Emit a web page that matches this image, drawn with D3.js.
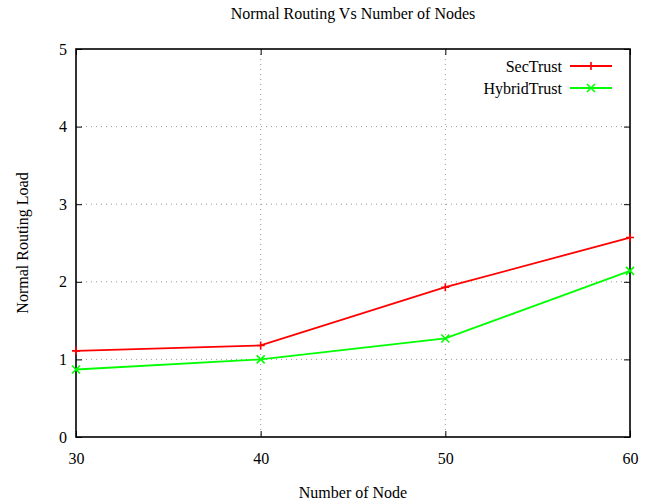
<!DOCTYPE html>
<html>
<head>
<meta charset="utf-8">
<script src="https://cdn.jsdelivr.net/npm/d3@7"></script>
<style>
  body { margin: 0; background: #fff; }
  svg text { font-family: "Liberation Serif", "DejaVu Serif", serif; fill: #000; }
  .grid line { stroke: #999; stroke-dasharray: 1,4; }
</style>
</head>
<body>
<svg id="chart" width="650" height="503"></svg>
<script>
// data
const nodes = [30, 40, 50, 60];
const secTrust = [1.11, 1.18, 1.93, 2.57];
const hybridTrust = [0.87, 1.0, 1.27, 2.14];
const yTicks = [0, 1, 2, 3, 4, 5];

const width = 650, height = 503;
const margin = { top: 49, right: 20, bottom: 66, left: 76 };
const w = width - margin.left - margin.right;   // plot width
const h = height - margin.top - margin.bottom;

const svg = d3.select('#chart');
const g = svg.append('g').attr('transform', `translate(${margin.left},${margin.top})`);

const x = d3.scaleLinear().domain([30, 60]).range([0, w]);
const y = d3.scaleLinear().domain([0, 5]).range([h, 0]);

// grid (dotted)
g.append('g').attr('class', 'grid')
  .selectAll('line.gx')
  .data(nodes.slice(1, -1))
  .join('line')
    .attr('x1', d => x(d)).attr('x2', d => x(d))
    .attr('y1', 0).attr('y2', h);
g.select('.grid')
  .selectAll('line.gy')
  .data(yTicks.slice(1, -1))
  .join('line')
    .attr('class', 'gy')
    .attr('x1', 0).attr('x2', w)
    .attr('y1', d => y(d)).attr('y2', d => y(d));

// axes, gnuplot style: inward ticks mirrored on every side
const tickLen = 6;
const xAxis = g.append('g').attr('transform', `translate(0,${h})`)
  .call(d3.axisBottom(x).tickValues(nodes).tickSize(-tickLen).tickPadding(16).tickFormat(d3.format('d')));
const xTop = g.append('g')
  .call(d3.axisTop(x).tickValues(nodes).tickSize(-tickLen).tickFormat(''));
const yAxis = g.append('g')
  .call(d3.axisLeft(y).tickValues(yTicks).tickSize(-tickLen).tickPadding(9).tickFormat(d3.format('d')));
const yRight = g.append('g').attr('transform', `translate(${w},0)`)
  .call(d3.axisRight(y).tickValues(yTicks).tickSize(-tickLen).tickFormat(''));

[xAxis, xTop, yAxis, yRight].forEach(a => {
  a.select('.domain').remove();
  a.selectAll('line').attr('stroke', '#000');
  a.selectAll('text').style('font-size', '16px').attr('font-family', null);
});

// frame
g.append('rect')
  .attr('width', w).attr('height', h)
  .attr('fill', 'none').attr('stroke', '#000').attr('stroke-width', 1.6);

// series
const series = [
  { name: 'SecTrust', values: secTrust, color: '#ff0000', mark: 'plus' },
  { name: 'HybridTrust', values: hybridTrust, color: '#00ff00', mark: 'cross' }
];

const line = d3.line().x((d, i) => x(nodes[i])).y(d => y(d));

function marker(sel, kind, color) {
  const s = 4;
  const p = kind === 'plus'
    ? `M${-s},0H${s}M0,${-s}V${s}`
    : `M${-s},${-s}L${s},${s}M${-s},${s}L${s},${-s}`;
  sel.append('path').attr('d', p).attr('stroke', color).attr('stroke-width', 1.6).attr('fill', 'none');
}

series.forEach(s => {
  g.append('path')
    .datum(s.values)
    .attr('d', line)
    .attr('fill', 'none')
    .attr('stroke', s.color)
    .attr('stroke-width', 1.8);
  g.selectAll(null)
    .data(s.values)
    .join('g')
      .attr('transform', (d, i) => `translate(${x(nodes[i])},${y(d)})`)
      .each(function() { marker(d3.select(this), s.mark, s.color); });
});

// legend
const legend = g.append('g').attr('transform', `translate(${w - 60},17)`);
series.forEach((s, i) => {
  const row = legend.append('g').attr('transform', `translate(0,${i * 22})`);
  row.append('text').attr('x', -8).attr('dy', '0.35em')
    .attr('text-anchor', 'end').style('font-size', '16px').text(s.name);
  row.append('line').attr('x1', 0).attr('x2', 42)
    .attr('stroke', s.color).attr('stroke-width', 1.8);
  row.append('g').attr('transform', 'translate(21,0)')
    .call(sel => marker(sel, s.mark, s.color));
});

// titles
svg.append('text')
  .attr('x', margin.left + w / 2).attr('y', 19)
  .attr('text-anchor', 'middle').style('font-size', '16px')
  .text('Normal Routing Vs Number of Nodes');

svg.append('text')
  .attr('x', margin.left + w / 2).attr('y', 498)
  .attr('text-anchor', 'middle').style('font-size', '16px')
  .text('Number of Node');

svg.append('text')
  .attr('transform', `translate(28,${margin.top + h / 2}) rotate(-90)`)
  .attr('text-anchor', 'middle').style('font-size', '16px')
  .text('Normal Routing Load');
</script>
</body>
</html>
